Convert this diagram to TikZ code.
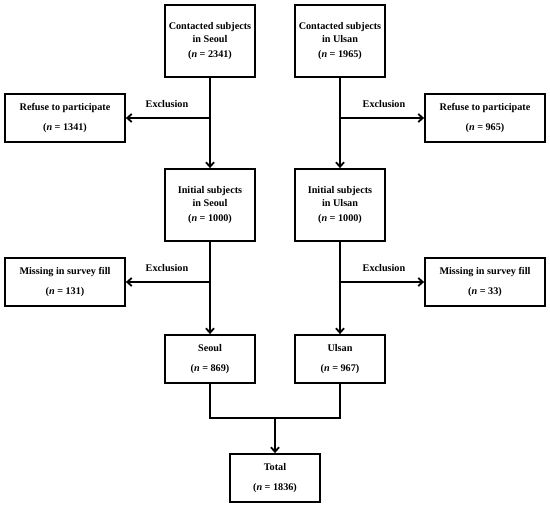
\documentclass[tikz,border=0pt]{standalone}
\usepackage{fontspec}
\setmainfont{Liberation Serif}
\usetikzlibrary{arrows.meta,calc}
\begin{document}
\begin{tikzpicture}[x=1pt,y=-1pt,
  box/.style={draw, line width=1.8pt, align=center, inner sep=0pt,
    font=\bfseries\fontsize{10.2}{13.5}\selectfont},
  big/.style={box, minimum width=90pt, minimum height=72pt},
  side/.style={box, minimum width=120pt, minimum height=48pt},
  small/.style={box, minimum width=90pt, minimum height=48pt},
  conn/.style={line width=1.8pt},
  arr/.style={conn, -{Straight Barb[length=4.5pt,width=8pt,line width=1.8pt]}},
  lab/.style={font=\bfseries\fontsize{10.2}{12}\selectfont}]
\useasboundingbox (0,0) rectangle (550,508);
\node[big] (c1) at (210,41) {Contacted subjects\\in Seoul\\[1pt](\textit{n} = 2341)};
\node[big] (c2) at (340,41) {Contacted subjects\\in Ulsan\\[1pt](\textit{n} = 1965)};
\node[side] (r1) at (65,118) {Refuse to participate\\[7pt](\textit{n} = 1341)};
\node[side] (r2) at (485,118) {Refuse to participate\\[7pt](\textit{n} = 965)};
\node[big] (i1) at (210,205) {Initial subjects\\in Seoul\\[1pt](\textit{n} = 1000)};
\node[big] (i2) at (340,205) {Initial subjects\\in Ulsan\\[1pt](\textit{n} = 1000)};
\node[side] (m1) at (65,282) {Missing in survey fill\\[7pt](\textit{n} = 131)};
\node[side] (m2) at (485,282) {Missing in survey fill\\[7pt](\textit{n} = 33)};
\node[small] (s1) at (210,359) {Seoul\\[7pt](\textit{n} = 869)};
\node[small] (s2) at (340,359) {Ulsan\\[7pt](\textit{n} = 967)};
\node[small] (t) at (275,478) {Total\\[7pt](\textit{n} = 1836)};
\coordinate (j1) at (c1.south |- r1.east);
\coordinate (j2) at (c2.south |- r2.west);
\coordinate (j3) at (i1.south |- m1.east);
\coordinate (j4) at (i2.south |- m2.west);
\coordinate (jt) at (t.north |- 0,418);
\draw[arr] (c1.south) -- (i1.north);
\draw[arr] (c2.south) -- (i2.north);
\draw[arr] (j1) -- (r1.east);
\draw[arr] (j2) -- (r2.west);
\draw[arr] (i1.south) -- (s1.north);
\draw[arr] (i2.south) -- (s2.north);
\draw[arr] (j3) -- (m1.east);
\draw[arr] (j4) -- (m2.west);
\draw[conn] (s1.south) |- (jt) -| (s2.south);
\draw[arr] (jt) -- (t.north);
\node[lab] (e1) at (167,104) {Exclusion};
\node[lab] (e2) at (384,104) {Exclusion};
\node[lab] (e3) at (167,268) {Exclusion};
\node[lab] (e4) at (384,268) {Exclusion};
\end{tikzpicture}
\end{document}
